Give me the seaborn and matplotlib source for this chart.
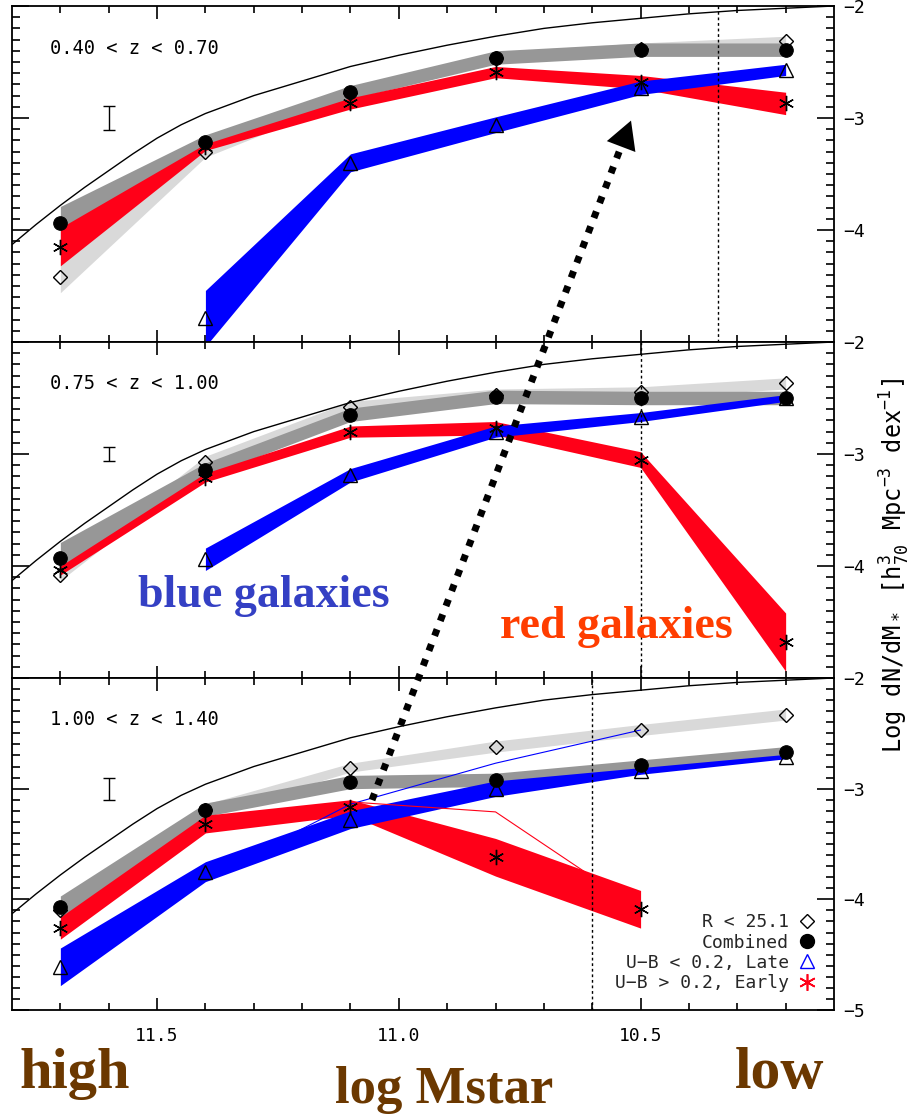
import numpy as np
import pandas as pd
import matplotlib
matplotlib.use("Agg")
import matplotlib.pyplot as plt
from matplotlib.lines import Line2D
from matplotlib.patches import FancyArrowPatch
from matplotlib.ticker import FixedLocator
import seaborn as sns

# ---- data -----------------------------------------------------------------
mass_bins = [11.7, 11.4, 11.1, 10.8, 10.5, 10.2]
z_labels = ["0.40 < z < 0.70", "0.75 < z < 1.00", "1.00 < z < 1.40"]

# R < 25.1 sample (open diamonds, light grey band)
rlim_z1 = [-4.42, -3.30, -2.78, -2.46, -2.38, -2.31]
rlim_z2 = [-4.08, -3.07, -2.58, -2.47, -2.45, -2.37]
rlim_z3 = [-4.10, -3.19, -2.81, -2.62, -2.47, -2.33]
rlim_err_z1 = [0.14, 0.05, 0.05, 0.05, 0.05, 0.04]
rlim_err_z2 = [0.05, 0.05, 0.05, 0.05, 0.05, 0.05]
rlim_err_z3 = [0.05, 0.05, 0.04, 0.05, 0.05, 0.05]

# Combined sample (filled circles, dark grey band)
comb_z1 = [-3.94, -3.21, -2.77, -2.46, -2.39, -2.39]
comb_z2 = [-3.93, -3.14, -2.65, -2.49, -2.50, -2.50]
comb_z3 = [-4.07, -3.19, -2.94, -2.92, -2.79, -2.67]
comb_err_z1 = [0.15, 0.06, 0.06, 0.06, 0.06, 0.06]
comb_err_z2 = [0.14, 0.06, 0.06, 0.06, 0.06, 0.06]
comb_err_z3 = [0.10, 0.06, 0.06, 0.06, 0.05, 0.05]

# U-B > 0.2, early types (asterisks, red band)
early_z1 = [-4.15, -3.26, -2.87, -2.59, -2.68, -2.87]
early_z2 = [-4.04, -3.21, -2.80, -2.77, -3.05, -4.68]
early_z3 = [-4.26, -3.32, -3.17, -3.62, -4.09, np.nan]
early_err_z1 = [0.17, 0.03, 0.05, 0.05, 0.06, 0.10]
early_err_z2 = [0.04, 0.04, 0.05, 0.06, 0.07, 0.26]
early_err_z3 = [0.10, 0.08, 0.07, 0.17, 0.17, np.nan]

# U-B < 0.2, late types (open triangles, blue band)
late_z1 = [np.nan, -4.79, -3.40, -3.06, -2.73, -2.57]
late_z2 = [np.nan, -3.94, -3.19, -2.80, -2.67, -2.50]
late_z3 = [-4.61, -3.75, -3.28, -3.00, -2.84, -2.71]
late_err_z1 = [np.nan, 0.25, 0.08, 0.07, 0.06, 0.05]
late_err_z2 = [np.nan, 0.10, 0.06, 0.05, 0.04, 0.03]
late_err_z3 = [0.17, 0.09, 0.08, 0.07, 0.03, 0.02]

# alternative colour split in the highest-z bin (thin lines)
alt_late_z3 = [np.nan, -3.81, -3.14, -2.77, -2.47, np.nan]
alt_early_z3 = [np.nan, np.nan, -3.12, -3.21, -4.09, np.nan]

# completeness limits (dotted verticals)
completeness = [10.34, 10.50, 10.60]

# typical error bar
typical_err = [0.11, 0.06, 0.10]
typical_err_pos = (11.6, -3.0)

# local reference mass function (solid black curve)
ref_mass = [11.8, 11.75, 11.7, 11.65, 11.6, 11.55, 11.5, 11.45, 11.4, 11.35, 11.3, 11.2,
            11.1, 11.0, 10.9, 10.8, 10.7, 10.6, 10.5, 10.4, 10.3, 10.2, 10.1]
ref_phi = [-4.13, -3.95, -3.78, -3.62, -3.47, -3.32, -3.18, -3.06, -2.96, -2.88, -2.80, -2.67,
           -2.54, -2.44, -2.35, -2.27, -2.20, -2.15, -2.11, -2.07, -2.04, -2.02, -2.00]

# tick positions
x_major = [10.5, 11.0, 11.5]
x_minor = [10.2, 10.3, 10.4, 10.6, 10.7, 10.8, 10.9, 11.1, 11.2, 11.3, 11.4, 11.6, 11.7]
y_minor = [round(-5 + 0.1 * k, 1) for k in range(31) if k % 10 != 0]

# ---- style ----------------------------------------------------------------
sns.set_theme(style="ticks")
plt.rcParams["font.family"] = ["DejaVu Sans Mono", "DejaVu Sans"]
plt.rcParams["mathtext.default"] = "regular"
plt.rcParams["axes.linewidth"] = 1.3
plt.rcParams["axes.edgecolor"] = "black"

C_LIGHT = "#d9d9d9"
C_DARK = "#979797"
C_RED = "#ff0018"
C_BLUE = "#0000ff"
C_BROWN = "#6b3800"

W, H = 912, 1118
fig = plt.figure(figsize=(W / 100, H / 100), dpi=100)
fig.patch.set_facecolor("white")


def rect(top, bottom, left=12, right=834):
    return [left / W, 1 - bottom / H, (right - left) / W, (bottom - top) / H]


panel_px = [(6, 342), (342, 678), (678, 1010)]
rlim_all = [rlim_z1, rlim_z2, rlim_z3]
rlim_err_all = [rlim_err_z1, rlim_err_z2, rlim_err_z3]
comb_all = [comb_z1, comb_z2, comb_z3]
comb_err_all = [comb_err_z1, comb_err_z2, comb_err_z3]
early_all = [early_z1, early_z2, early_z3]
early_err_all = [early_err_z1, early_err_z2, early_err_z3]
late_all = [late_z1, late_z2, late_z3]
late_err_all = [late_err_z1, late_err_z2, late_err_z3]

m = np.array(mass_bins)
ref_df = pd.DataFrame({"mass": ref_mass, "phi": ref_phi})


def band(ax, vals, errs, color, z):
    v = np.array(vals, float)
    e = np.array(errs, float)
    ok = ~np.isnan(v)
    ax.fill_between(m[ok], (v - e)[ok], (v + e)[ok], color=color,
                    linewidth=0, zorder=z)


asterisk = (6, 2, 0)

for i, (top, bottom) in enumerate(panel_px):
    ax = fig.add_axes(rect(top, bottom))
    ax.set_facecolor("white")

    band(ax, rlim_all[i], rlim_err_all[i], C_LIGHT, 1)
    band(ax, comb_all[i], comb_err_all[i], C_DARK, 2)
    band(ax, early_all[i], early_err_all[i], C_RED, 3)
    band(ax, late_all[i], late_err_all[i], C_BLUE, 4)

    if i == 2:
        alt = pd.DataFrame({"mass": m, "late": alt_late_z3, "early": alt_early_z3})
        sns.lineplot(data=alt.dropna(subset=["late"]), x="mass", y="late",
                     color=C_BLUE, lw=0.8, sort=False, estimator=None, ax=ax, zorder=5)
        sns.lineplot(data=alt.dropna(subset=["early"]), x="mass", y="early",
                     color=C_RED, lw=0.8, sort=False, estimator=None, ax=ax, zorder=5)

    sns.lineplot(data=ref_df, x="mass", y="phi", color="black", lw=1.0,
                 sort=False, estimator=None, ax=ax, zorder=5)

    ax.axvline(completeness[i], color="black", lw=1.0, ls=(0, (2, 2)), zorder=5)

    # symbols
    ax.plot(m, rlim_all[i], ls="none", marker="D", ms=7.5, mfc="none",
            mec="black", mew=1.0, zorder=7)
    sns.scatterplot(x=m, y=comb_all[i], marker="o", s=95, color="black",
                    edgecolor="black", ax=ax, zorder=8, legend=False)
    ax.plot(m, late_all[i], ls="none", marker="^", ms=10, mfc="none",
            mec="black", mew=1.0, zorder=7)
    ax.plot(m, early_all[i], ls="none", marker=asterisk, ms=11, color="black",
            mew=1.0, zorder=7)

    ax.errorbar([typical_err_pos[0]], [typical_err_pos[1]], yerr=[typical_err[i]],
                fmt="none", ecolor="black", elinewidth=1.0, capsize=4.5,
                capthick=1.0, zorder=6)

    ax.text(0.046, 0.875, z_labels[i], transform=ax.transAxes, fontsize=13.5,
            ha="left", va="center", color="black")

    ax.set_xlim(11.8, 10.1)
    ax.set_ylim(-5, -2)
    ax.set_xlabel("")
    ax.set_ylabel("")
    ax.xaxis.set_major_locator(FixedLocator(x_major))
    ax.xaxis.set_minor_locator(FixedLocator(x_minor))
    if i < 2:
        ax.yaxis.set_major_locator(FixedLocator([-4, -3, -2]))
    else:
        ax.yaxis.set_major_locator(FixedLocator([-5, -4, -3, -2]))
    ax.yaxis.set_minor_locator(FixedLocator(y_minor))
    ax.set_axisbelow(False)

    for which, xl, yl in (("major", 9, 12), ("minor", 5, 6)):
        ax.xaxis.set_tick_params(which=which, direction="in", bottom=True, top=True,
                                 length=xl, width=1.2, color="black")
        ax.yaxis.set_tick_params(which=which, direction="in", left=True, right=True,
                                 length=yl, width=1.2, color="black")
    ax.tick_params(axis="y", labelleft=False, labelright=True, pad=7,
                   labelsize=13, labelcolor="black")
    ax.tick_params(axis="x", labelbottom=(i == 2), labeltop=False, pad=12,
                   labelsize=13, labelcolor="black")

    if i == 2:
        handles = [
            Line2D([], [], ls="none", marker="D", ms=7, mfc="none", mec="black"),
            Line2D([], [], ls="none", marker="o", ms=10, mfc="black", mec="black"),
            Line2D([], [], ls="none", marker="^", ms=10, mfc="none", mec=C_BLUE),
            Line2D([], [], ls="none", marker=asterisk, ms=12, color=C_RED, mew=1.2),
        ]
        labels = ["R < 25.1", "Combined", "U\u2212B < 0.2, Late", "U\u2212B > 0.2, Early"]
        ax.legend(handles, labels, loc="lower right", frameon=False, fontsize=13,
                  markerfirst=False, handlelength=1.0, handletextpad=0.5,
                  labelspacing=0.12, borderaxespad=0.6)

# y-axis label on the right edge
fig.text(895 / W, 1 - 565 / H,
         r"Log dN/dM$_*$ [h$_{70}^{3}$ Mpc$^{-3}$ dex$^{-1}$]",
         rotation=90, ha="center", va="center", fontsize=17, color="black")

# annotations
serif = ["Liberation Serif", "DejaVu Serif"]
fig.text(138 / W, 1 - 607 / H, "blue galaxies", fontsize=33, fontweight="bold",
         family=serif, color="#3440c4", ha="left", va="baseline")
fig.text(500 / W, 1 - 638 / H, "red galaxies", fontsize=33, fontweight="bold",
         family=serif, color="#ff3d00", ha="left", va="baseline")
fig.text(20 / W, 1 - 1088 / H, "high", fontsize=42, fontweight="bold",
         family=serif, color=C_BROWN, ha="left", va="baseline")
fig.text(335 / W, 1 - 1103 / H, "log Mstar", fontsize=38, fontweight="bold",
         family=serif, color=C_BROWN, ha="left", va="baseline")
fig.text(735 / W, 1 - 1088 / H, "low", fontsize=43, fontweight="bold",
         family=serif, color=C_BROWN, ha="left", va="baseline")

# dotted evolution arrow across the panels
start = np.array([372.0, 800.0])
tip = np.array([632.0, 118.0])
u = (tip - start) / np.linalg.norm(tip - start)
shaft_end = tip - 22 * u


def to_fig(p):
    return (p[0] / W, 1 - p[1] / H)


(x0, y0), (x1, y1) = to_fig(start), to_fig(shaft_end)
fig.add_artist(Line2D([x0, x1], [y0, y1], transform=fig.transFigure,
                      color="black", lw=5, ls=(0, (1, 1.3)),
                      solid_capstyle="butt", dash_capstyle="butt", zorder=20))
head_base = tip - 30 * u
fig.add_artist(FancyArrowPatch(to_fig(head_base), to_fig(tip),
                               transform=fig.transFigure,
                               arrowstyle="-|>,head_length=1.0,head_width=0.55",
                               mutation_scale=20, color="black", lw=0,
                               zorder=21))

fig.savefig("out.png", dpi=100, facecolor="white")
